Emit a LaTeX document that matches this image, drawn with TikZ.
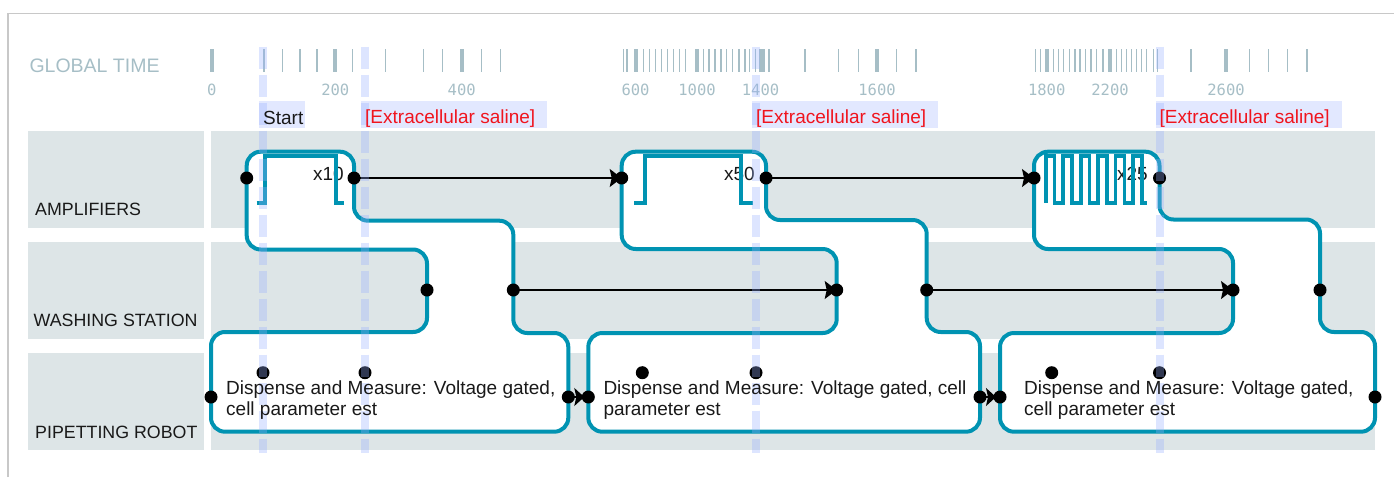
\documentclass[tikz,border=0pt]{standalone}
\usepackage{fontspec}
\setmainfont{Liberation Sans}
\newfontfamily\tickfont{DejaVu Sans Mono}
\usetikzlibrary{arrows.meta}

\definecolor{frameline}{RGB}{200,200,200}
\definecolor{lanefill}{RGB}{221,229,231}
\definecolor{flowteal}{RGB}{0,147,178}
\definecolor{tickgray}{RGB}{166,190,198}
\definecolor{bandblue}{RGB}{150,175,255}
\definecolor{tagfill}{RGB}{226,232,255}
\definecolor{salinered}{RGB}{240,20,30}
\definecolor{labelink}{RGB}{25,25,25}

\begin{document}
\begin{tikzpicture}[x=1pt,y=-1pt,
  lane/.style={fill=lanefill},
  flow/.style={draw=flowteal,line width=4pt,fill=white,rounded corners=14pt},
  pulse/.style={draw=flowteal,line width=4pt,line join=miter},
  dot/.style={circle,fill=black,inner sep=0pt,minimum size=13pt},
  link/.style={draw=black,line width=1.3pt,-{Stealth[length=12pt,width=18pt,inset=2pt]}},
  shortlink/.style={draw=black,line width=1.3pt,-{Stealth[length=10pt,width=18pt,inset=2pt]},shorten >=4pt},
  thintick/.style={draw=tickgray,line width=1.4pt},
  thicktick/.style={draw=tickgray,line width=4pt},
  band/.style={draw=bandblue,draw opacity=0.32,line width=8pt,dash pattern=on 22pt off 6pt},
  tag/.style={fill=tagfill},
  txt/.style={inner sep=0pt,font=\fontsize{19}{22}\selectfont,text=labelink},
  lanelabel/.style={inner sep=0pt,anchor=base west,font=\fontsize{17.8}{21}\selectfont,text=labelink},
  ticklabel/.style={inner sep=0pt,anchor=base,font=\tickfont\fontsize{15.5}{18}\selectfont,text=tickgray},
  saline/.style={txt,anchor=base west,text=salinered}
]
\useasboundingbox (0,0) rectangle (1394,477);

% outer frame
\draw[frameline,line width=1.3pt] (8,477) -- (8,13.3) -- (1394,13.3);

% time axis
\node[inner sep=0pt,anchor=base west,font=\fontsize{19.5}{23}\selectfont,text=tickgray] (gt) at (29.3,72.7) {GLOBAL TIME};
\foreach \t in {264,282.3,300,317,352.7,385.7,423.3,442.3,481.7,500.7,
  623.3,627,643.3,649.3,655.5,661.5,667.5,673.5,679.5,685.5,703.3,709,715,721,726.7,732.7,739,745,749.3,755.7,764,769,805,838.3,858.3,896.7,916,
  1035.7,1040.5,1053.3,1058.3,1063.6,1069.2,1074.8,1080,1085.4,1090.8,1096.4,1102.8,1116.3,1121.3,1126.3,1131.3,1136.3,1141.3,1146.3,1153.3,1157.5,1191,1249.3,1268.2,1287.5,1307}
  \draw[thintick] (\t,49.3) -- (\t,72);
\foreach \t in {211.7,335.3,461.7,635.5,697,760.5,877,1046.7,1110,1226}
  \draw[thicktick] (\t,49.3) -- (\t,72);
\foreach \t/\v [count=\i] in {211.7/0,335.3/200,461.7/400,635.5/600,697/1000,760.5/1400,877/1600,1046.7/1800,1110/2200,1226/2600}
  \node[ticklabel] (tl\i) at (\t,95) {\v};

% phase tags
\fill[tag] (259,100.5) rectangle (304.5,128.3);
\fill[tag] (361,100.5) rectangle (547,128.3);
\fill[tag] (752,100.5) rectangle (938.3,128.3);
\fill[tag] (1155.7,100.5) rectangle (1342.3,128.3);

% lanes
\fill[lane] (28.3,131) rectangle (204,228);
\fill[lane] (28.3,242.3) rectangle (204,339);
\fill[lane] (28.3,353.3) rectangle (204,450);
\fill[lane] (211,131) rectangle (1375,228);
\fill[lane] (211,242.3) rectangle (1375,339);
\fill[lane] (211,353.3) rectangle (1375,450);

% the three cycles
\draw[flow] (211,380) -- (211,332) -- (427,332) -- (427,249.5) -- (246.7,249.5) -- (246.7,151.7)
  -- (354,151.7) -- (354,220.7) -- (513.3,220.7) -- (513.3,333) -- (568.3,333) -- (568.3,431.7)
  -- (211,431.7) -- cycle;
\draw[flow] (588.3,380) -- (588.3,333) -- (836.7,333) -- (836.7,249) -- (621.7,249) -- (621.7,151.7)
  -- (766,151.7) -- (766,220) -- (926.7,220) -- (926.7,332) -- (980,332) -- (980,431.7)
  -- (588.3,431.7) -- cycle;
\draw[flow] (1000,380) -- (1000,333) -- (1233,333) -- (1233,249) -- (1034,249) -- (1034,151.7)
  -- (1159.5,151.7) -- (1159.5,219.5) -- (1320,219.5) -- (1320,332) -- (1375,332) -- (1375,431.7)
  -- (1000,431.7) -- cycle;

% repeat counts
\node[txt,anchor=base east] (n10) at (344,180.5) {x10};
\node[txt,anchor=base east] (n50) at (755,180.5) {x50};
\node[txt,anchor=base east] (n25) at (1148,180.5) {x25};

% stimulus protocols
\draw[pulse] (256.7,202.7) -- (264.7,202.7) -- (264.7,155.7) -- (335.8,155.7) -- (335.8,202.7) -- (344,202.7);
\draw[pulse] (634,202.7) -- (645.3,202.7) -- (645.3,155.7) -- (741.3,155.7) -- (741.3,202.7) -- (752.7,202.7);
\draw[pulse,line width=3.6pt] (1045.8,202.7) -- (1045.8,155.7) -- (1054.5,155.7) -- (1054.5,202.7) -- (1063.2,202.7)
  -- (1063.2,155.7) -- (1072,155.7) -- (1072,202.7) -- (1080.7,202.7) -- (1080.7,155.7)
  -- (1089.4,155.7) -- (1089.4,202.7) -- (1098.1,202.7) -- (1098.1,155.7) -- (1106.8,155.7)
  -- (1106.8,202.7) -- (1115.6,202.7) -- (1115.6,155.7) -- (1124.3,155.7) -- (1124.3,202.7)
  -- (1133,202.7) -- (1133,155.7) -- (1141.7,155.7) -- (1141.7,202.7) -- (1147.3,202.7);

% ports
\node[dot] (a1) at (246.7,178) {};
\node[dot] (a2) at (354,178) {};
\node[dot] (a3) at (621.7,178) {};
\node[dot] (a4) at (766,178) {};
\node[dot] (a5) at (1034,178) {};
\node[dot] (a6) at (1159.5,178) {};
\node[dot] (w1) at (427,290) {};
\node[dot] (w2) at (513.3,290) {};
\node[dot] (w3) at (836.7,290) {};
\node[dot] (w4) at (926.7,290) {};
\node[dot] (w5) at (1233,290) {};
\node[dot] (w6) at (1320,290) {};
\node[dot] (p1) at (211,397) {};
\node[dot] (p2) at (568.3,397) {};
\node[dot] (p3) at (588.3,397) {};
\node[dot] (p4) at (980,397) {};
\node[dot] (p5) at (1000,397) {};
\node[dot] (p6) at (1375,397) {};
\node[dot] (d1) at (263,372.7) {};
\node[dot] (d2) at (365,372.7) {};
\node[dot] (d3) at (642.3,372.7) {};
\node[dot] (d4) at (756,372.7) {};
\node[dot] (d5) at (1051.7,372.7) {};
\node[dot] (d6) at (1159.5,372.7) {};

% hand-overs between cycles
\draw[link] (a2.center) -- (a3.center);
\draw[link] (a4.center) -- (a5.center);
\draw[link] (w2.center) -- (w3.center);
\draw[link] (w4.center) -- (w5.center);
\draw[shortlink] (p2.center) -- (p3.center);
\draw[shortlink] (p4.center) -- (p5.center);

% time markers
\foreach \x in {263,365,756,1159.5}
  \draw[band] (\x,46.7) -- (\x,453);

% tag texts
\node[txt,anchor=base west] (tstart) at (263,124) {Start};
\node[saline] (ts1) at (365,123.5) {[Extracellular saline]};
\node[saline] (ts2) at (756,123.5) {[Extracellular saline]};
\node[saline] (ts3) at (1159.5,123.5) {[Extracellular saline]};

% pipetting step descriptions
\node[txt,anchor=base west] (s1a) at (226,394) {Dispense and Measure: Voltage gated,};
\node[txt,anchor=base west] (s1b) at (226,415.7) {cell parameter est};
\node[txt,anchor=base west] (s2a) at (603.3,394) {Dispense and Measure: Voltage gated, cell};
\node[txt,anchor=base west] (s2b) at (603.3,415.7) {parameter est};
\node[txt,anchor=base west] (s3a) at (1024,394) {Dispense and Measure: Voltage gated,};
\node[txt,anchor=base west] (s3b) at (1024,415.7) {cell parameter est};

% lane names
\node[lanelabel] (lamp) at (35,215) {AMPLIFIERS};
\node[lanelabel] (lwash) at (33.5,326.7) {WASHING STATION};
\node[lanelabel] (lpip) at (35,438.3) {PIPETTING ROBOT};
\end{tikzpicture}
\end{document}
